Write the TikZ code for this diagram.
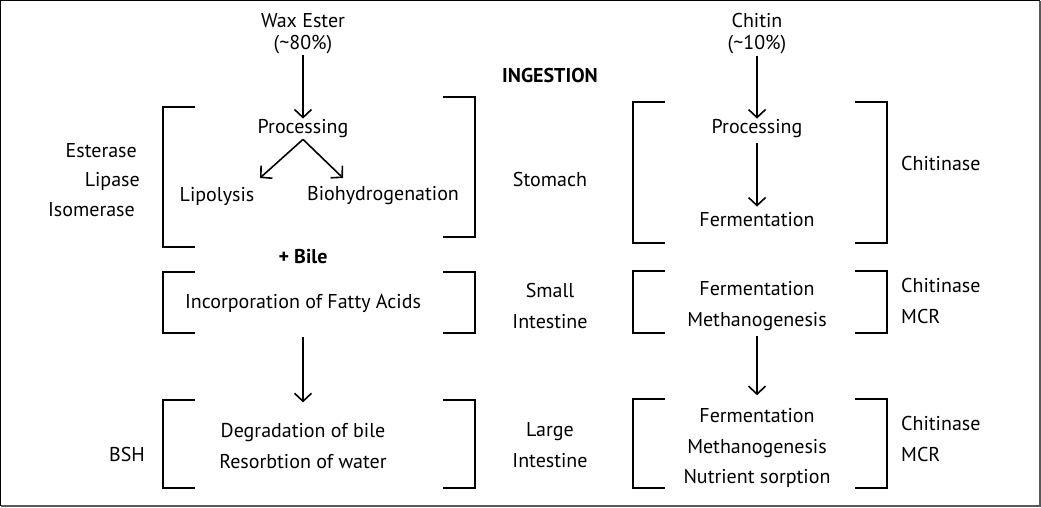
\documentclass[tikz,border=0pt]{standalone}
\usepackage{fontspec}
\setmainfont{PT Sans}
\usetikzlibrary{arrows.meta}
\tikzset{
  lbl/.style={inner sep=1pt, font=\fontsize{20}{22}\selectfont},
  boldlbl/.style={inner sep=1pt, font=\fontsize{20}{22}\selectfont\bfseries},
  head/.style={inner sep=1pt, align=center, font=\fontsize{20}{22}\selectfont},
  stack/.style={inner sep=1pt, align=center, font=\fontsize{20}{30.5}\selectfont},
  arr/.style={line width=1.6pt, -{Straight Barb[length=8pt,width=17pt]}},
  brk/.style={line width=2pt},
}
\begin{document}
\begin{tikzpicture}[x=1pt, y=-1pt]
		\useasboundingbox (0,0) rectangle (1041,507);
		% Frame
		\draw[line width=1pt] (0.5,506) -- (0.5,0.5) -- (1040,0.5);
		\draw[line width=2pt, black!65] (0.5,506) -- (1040,506) -- (1040,0.5);
		% Sources
		\node[head] (wax) at (303,34) {Wax Ester\\(\textasciitilde80\%)};
		\node[head] (chitin) at (757,34) {Chitin\\(\textasciitilde10\%)};
		\node[boldlbl] (ingest) at (550,75) {INGESTION};
		% Organs
		\node[lbl] (stomach) at (550,179) {Stomach};
		\node[stack] (small) at (550,306) {Small\\Intestine};
		\node[stack] (large) at (550,445) {Large\\Intestine};
		% Wax ester: stomach
		\draw[brk] (195,107) -- (163,107) -- (163,247) -- (195,247);
		\draw[brk] (443,97) -- (475,97) -- (475,237) -- (443,237);
		\node[lbl] (proc1) at (303,129) {Processing};
		\node[lbl] (lipo) at (217,196) {Lipolysis};
		\node[lbl] (biohyd) at (383,196) {Biohydrogenation};
		\coordinate (lipotip) at (260,178);
		\coordinate (biotip) at (343,178);
		\draw[arr] (wax) -- (proc1);
		\draw[arr] (proc1.south) -- (lipotip);
		\draw[arr] (proc1.south) -- (biotip);
		\node[lbl, anchor=east] (esterase) at (138,151) {Esterase};
		\node[lbl, anchor=east] (lipase) at (141,181) {Lipase};
		\node[lbl, anchor=east] (isomerase) at (136,210) {Isomerase};
		\node[boldlbl] (bile) at (303,257) {+ Bile};
		% Wax ester: small intestine
		\draw[brk] (195,272) -- (163,272) -- (163,333) -- (195,333);
		\draw[brk] (443,272) -- (475,272) -- (475,333) -- (443,333);
		\node[lbl] (incorp) at (303,303) {Incorporation of Fatty Acids};
		% Wax ester: large intestine
		\draw[brk] (195,400) -- (163,400) -- (163,488) -- (195,488);
		\draw[brk] (443,400) -- (475,400) -- (475,488) -- (443,488);
		\node[stack] (degr) at (303,446) {Degradation of bile\\Resorbtion of water};
		\node[lbl] (bsh) at (127,454) {BSH};
		\draw[arr, shorten <=24pt, shorten >=20pt] (incorp.south) -- (degr.north);
		% Chitin: stomach
		\draw[brk] (665,102) -- (633,102) -- (633,243) -- (665,243);
		\draw[brk] (855,102) -- (887,102) -- (887,243) -- (855,243);
		\node[lbl] (proc2) at (757,129) {Processing};
		\node[lbl] (ferm1) at (757,220) {Fermentation};
		\draw[arr] (chitin) -- (proc2);
		\draw[arr, shorten <=4pt, shorten >=5pt] (proc2) -- (ferm1);
		\node[lbl, anchor=west] (chit1) at (900,163) {Chitinase};
		% Chitin: small intestine
		\draw[brk] (665,271) -- (633,271) -- (633,333) -- (665,333);
		\draw[brk] (855,271) -- (887,271) -- (887,333) -- (855,333);
		\node[stack] (ferm2) at (757,306) {Fermentation\\Methanogenesis};
		\node[stack, align=left, anchor=west] (chit2) at (900,301) {Chitinase\\MCR};
		% Chitin: large intestine
		\draw[brk] (665,399) -- (633,399) -- (633,488) -- (665,488);
		\draw[brk] (855,399) -- (887,399) -- (887,488) -- (855,488);
		\node[stack] (ferm3) at (757,448) {Fermentation\\Methanogenesis\\Nutrient sorption};
		\node[stack, align=left, anchor=west] (chit3) at (900,439) {Chitinase\\MCR};
		\draw[arr, shorten <=4pt, shorten >=12pt] (ferm2.south) -- (ferm3.north);
	\end{tikzpicture}
\end{document}
